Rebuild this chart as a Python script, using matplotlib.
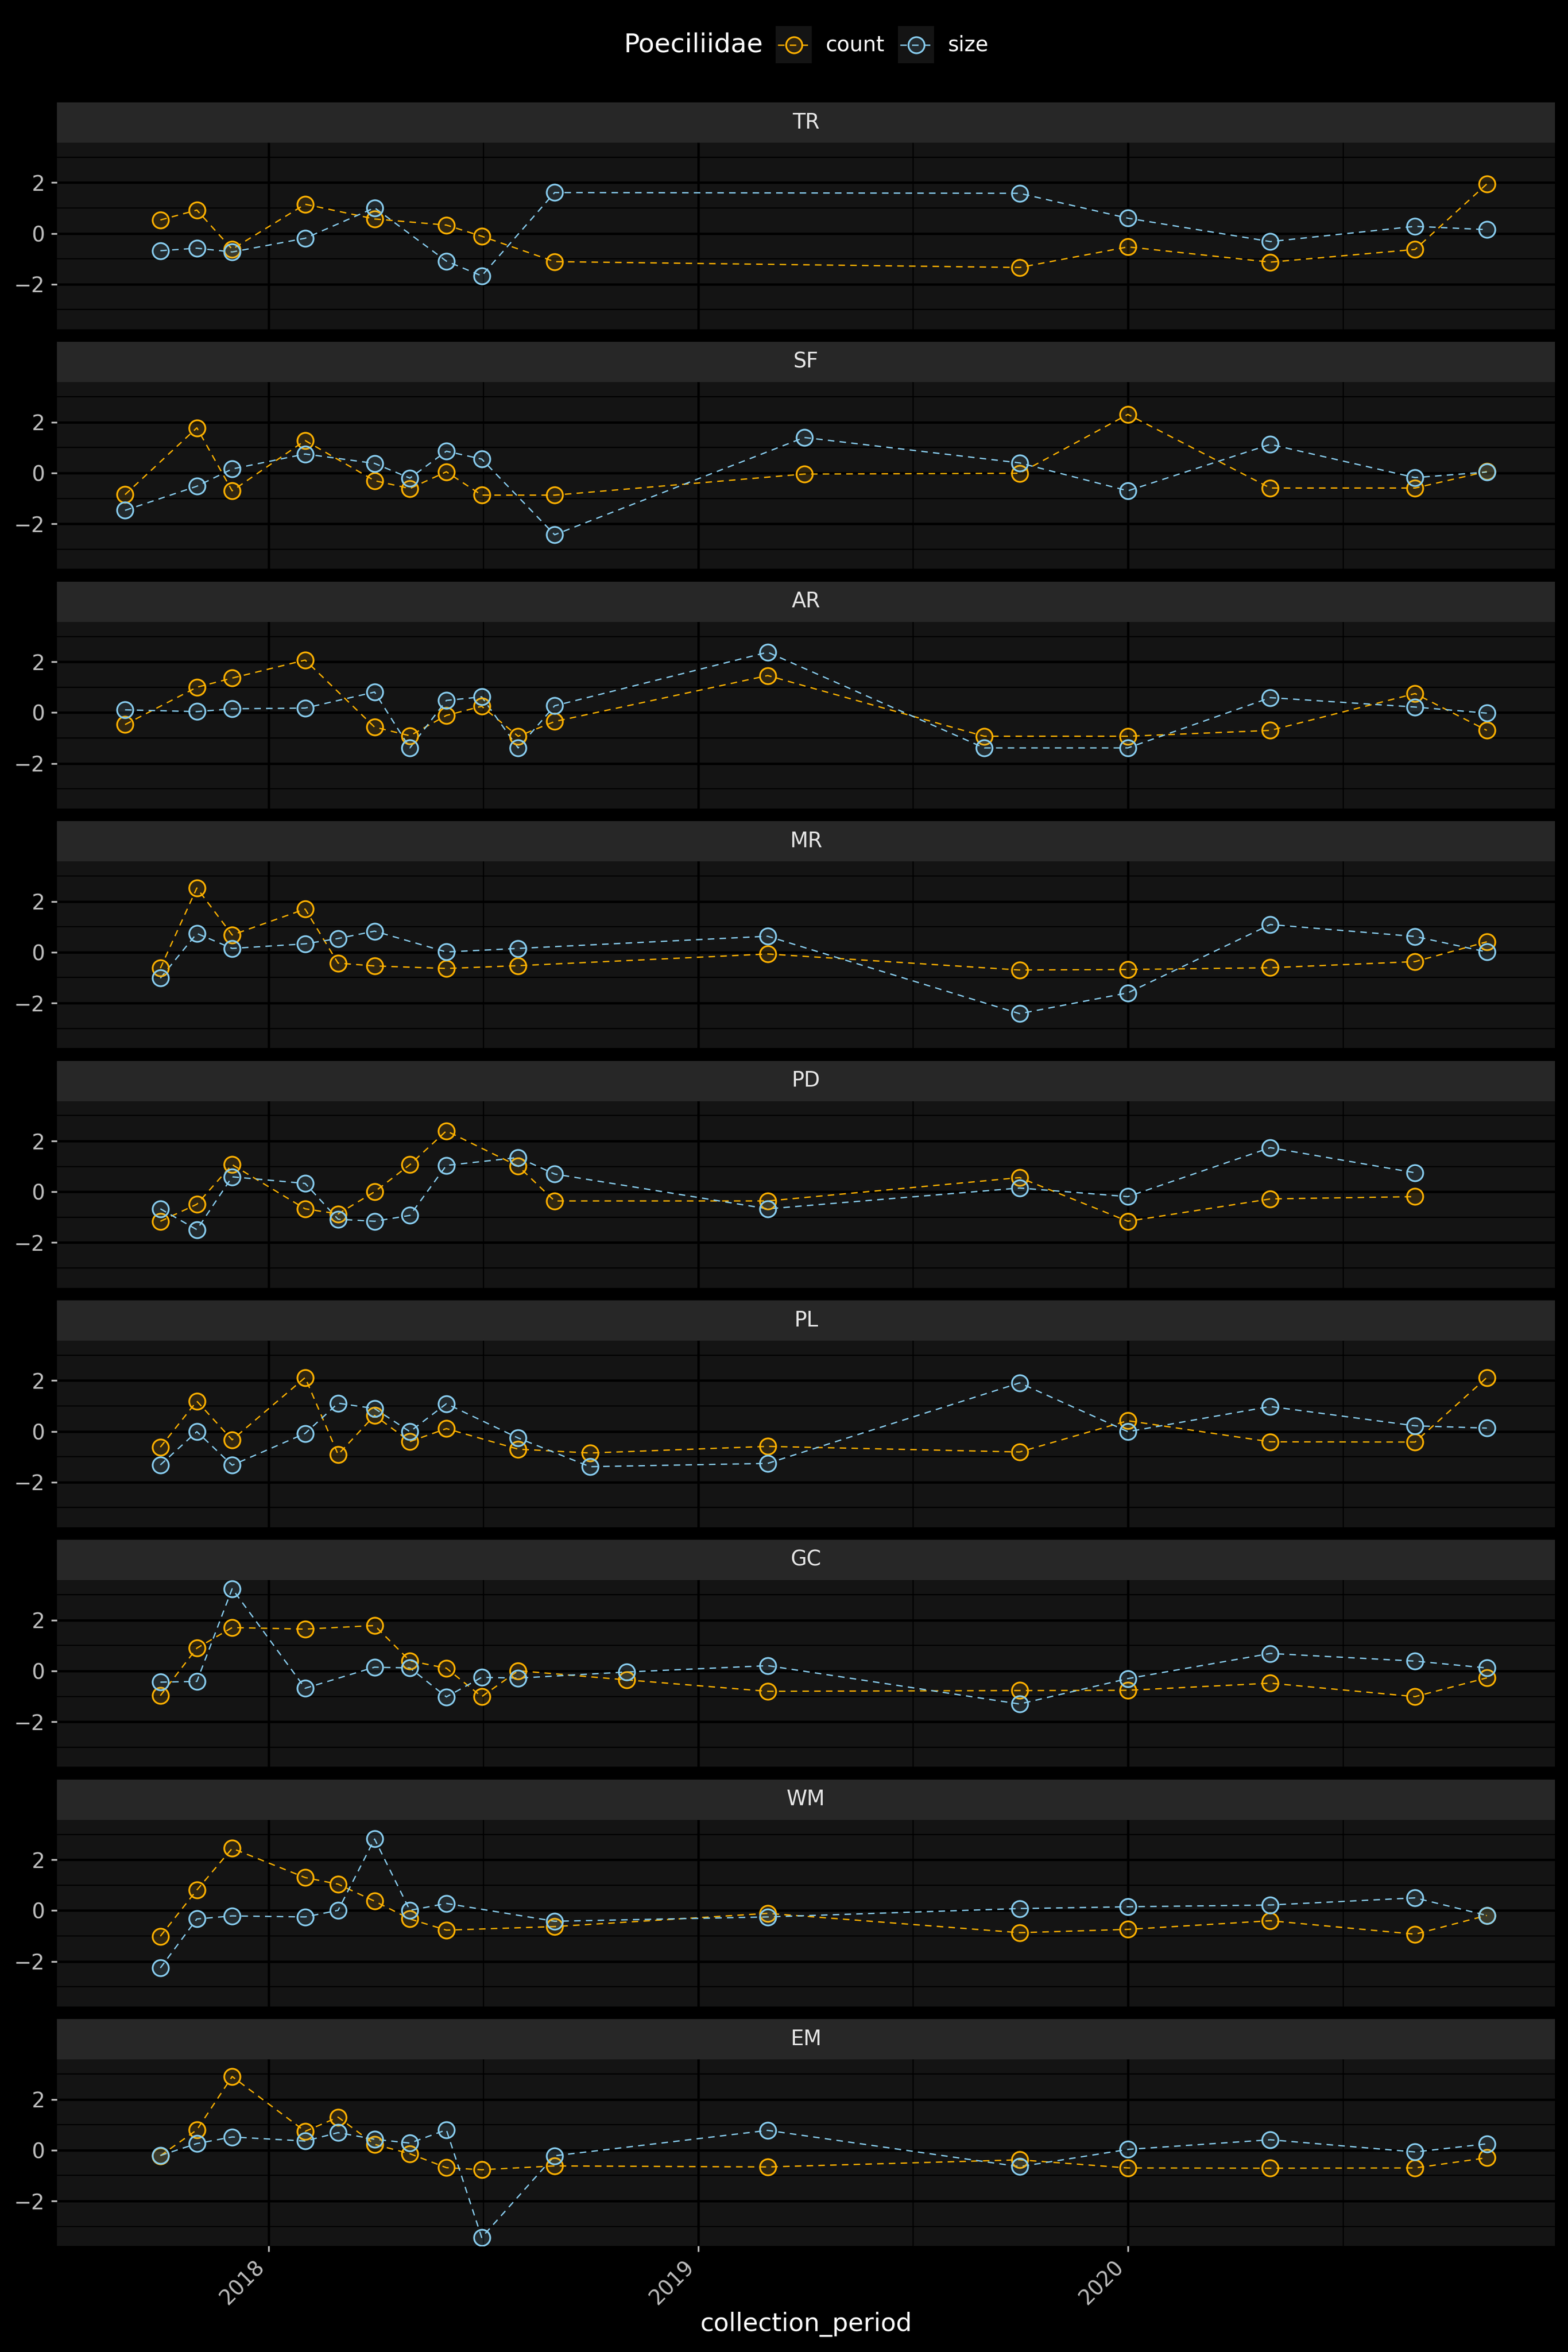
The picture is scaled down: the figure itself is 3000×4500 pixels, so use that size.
import matplotlib
matplotlib.use("Agg")
import matplotlib.pyplot as plt
import matplotlib.dates as mdates
import matplotlib.colors as mcolors
from matplotlib.patches import Rectangle
from matplotlib.lines import Line2D
import pandas as pd

# collection dates (monthly sampling) and standardized values per site
dates_TR = ["2017-10-01", "2017-11-01", "2017-12-01", "2018-02-01", "2018-04-01", "2018-06-01", "2018-07-01",
            "2018-09-01", "2019-10-01", "2020-01-01", "2020-05-01", "2020-09-01", "2020-11-01"]
count_TR = [0.53, 0.92, -0.62, 1.15, 0.57, 0.33, -0.11, -1.11, -1.34, -0.53, -1.13, -0.63, 1.95]
size_TR = [-0.68, -0.58, -0.73, -0.19, 1.01, -1.09, -1.67, 1.61, 1.58, 0.60, -0.32, 0.28, 0.15]

dates_SF = ["2017-09-01", "2017-11-01", "2017-12-01", "2018-02-01", "2018-04-01", "2018-05-01", "2018-06-01",
            "2018-07-01", "2018-09-01", "2019-04-01", "2019-10-01", "2020-01-01", "2020-05-01", "2020-09-01",
            "2020-11-01"]
count_SF = [-0.85, 1.78, -0.70, 1.28, -0.30, -0.61, 0.05, -0.87, -0.87, -0.04, -0.01, 2.31, -0.59, -0.59, 0.06]
size_SF = [-1.47, -0.52, 0.16, 0.75, 0.38, -0.20, 0.86, 0.55, -2.43, 1.40, 0.40, -0.70, 1.13, -0.18, 0.04]

dates_AR = ["2017-09-01", "2017-11-01", "2017-12-01", "2018-02-01", "2018-04-01", "2018-05-01", "2018-06-01",
            "2018-07-01", "2018-08-01", "2018-09-01", "2019-03-01", "2019-09-01", "2020-01-01", "2020-05-01",
            "2020-09-01", "2020-11-01"]
count_AR = [-0.47, 1.00, 1.36, 2.07, -0.57, -0.91, -0.11, 0.25, -0.93, -0.35, 1.46, -0.93, -0.93, -0.70, 0.75, -0.70]
size_AR = [0.11, 0.04, 0.15, 0.18, 0.81, -1.39, 0.48, 0.62, -1.39, 0.27, 2.38, -1.39, -1.39, 0.59, 0.22, -0.02]

dates_MR = ["2017-10-01", "2017-11-01", "2017-12-01", "2018-02-01", "2018-03-01", "2018-04-01", "2018-06-01",
            "2018-08-01", "2019-03-01", "2019-10-01", "2020-01-01", "2020-05-01", "2020-09-01", "2020-11-01"]
count_MR = [-0.63, 2.53, 0.68, 1.70, -0.43, -0.54, -0.64, -0.53, -0.07, -0.70, -0.68, -0.61, -0.37, 0.41]
size_MR = [-1.02, 0.74, 0.15, 0.33, 0.54, 0.83, 0.01, 0.15, 0.63, -2.42, -1.60, 1.09, 0.62, 0.01]

dates_PD = ["2017-10-01", "2017-11-01", "2017-12-01", "2018-02-01", "2018-03-01", "2018-04-01", "2018-05-01",
            "2018-06-01", "2018-08-01", "2018-09-01", "2019-03-01", "2019-10-01", "2020-01-01", "2020-05-01",
            "2020-09-01"]
count_PD = [-1.16, -0.49, 1.07, -0.67, -0.87, 0.00, 1.07, 2.40, 1.01, -0.36, -0.36, 0.56, -1.16, -0.28, -0.19]
size_PD = [-0.67, -1.49, 0.59, 0.33, -1.08, -1.16, -0.93, 1.04, 1.35, 0.70, -0.67, 0.15, -0.19, 1.74, 0.75]

dates_PL = ["2017-10-01", "2017-11-01", "2017-12-01", "2018-02-01", "2018-03-01", "2018-04-01", "2018-05-01",
            "2018-06-01", "2018-08-01", "2018-10-01", "2019-03-01", "2019-10-01", "2020-01-01", "2020-05-01",
            "2020-09-01", "2020-11-01"]
count_PL = [-0.62, 1.19, -0.33, 2.12, -0.91, 0.63, -0.40, 0.11, -0.70, -0.85, -0.59, -0.81, 0.42, -0.41, -0.42, 2.12]
size_PL = [-1.32, -0.01, -1.33, -0.08, 1.11, 0.90, -0.01, 1.09, -0.26, -1.39, -1.26, 1.91, -0.01, 0.98, 0.22, 0.13]

dates_GC = ["2017-10-01", "2017-11-01", "2017-12-01", "2018-02-01", "2018-04-01", "2018-05-01", "2018-06-01",
            "2018-07-01", "2018-08-01", "2018-11-01", "2019-03-01", "2019-10-01", "2020-01-01", "2020-05-01",
            "2020-09-01", "2020-11-01"]
count_GC = [-0.97, 0.90, 1.71, 1.65, 1.79, 0.40, 0.11, -1.01, 0.01, -0.35, -0.80, -0.77, -0.76, -0.48, -1.01, -0.27]
size_GC = [-0.44, -0.41, 3.24, -0.68, 0.15, 0.12, -1.02, -0.25, -0.28, -0.04, 0.21, -1.30, -0.30, 0.69, 0.39, 0.12]

dates_WM = ["2017-10-01", "2017-11-01", "2017-12-01", "2018-02-01", "2018-03-01", "2018-04-01", "2018-05-01",
            "2018-06-01", "2018-09-01", "2019-03-01", "2019-10-01", "2020-01-01", "2020-05-01", "2020-09-01",
            "2020-11-01"]
count_WM = [-1.01, 0.81, 2.45, 1.30, 1.04, 0.37, -0.33, -0.77, -0.63, -0.11, -0.87, -0.74, -0.40, -0.93, -0.19]
size_WM = [-2.26, -0.33, -0.21, -0.25, 0.01, 2.82, 0.01, 0.28, -0.42, -0.25, 0.08, 0.15, 0.22, 0.50, -0.19]

dates_EM = ["2017-10-01", "2017-11-01", "2017-12-01", "2018-02-01", "2018-03-01", "2018-04-01", "2018-05-01",
            "2018-06-01", "2018-07-01", "2018-09-01", "2019-03-01", "2019-10-01", "2020-01-01", "2020-05-01",
            "2020-09-01", "2020-11-01"]
count_EM = [-0.22, 0.80, 2.90, 0.74, 1.30, 0.23, -0.14, -0.69, -0.77, -0.62, -0.66, -0.38, -0.70, -0.71, -0.70, -0.30]
size_EM = [-0.21, 0.26, 0.52, 0.36, 0.69, 0.43, 0.28, 0.80, -3.44, -0.22, 0.78, -0.65, 0.03, 0.41, -0.07, 0.25]

sites = ["TR", "SF", "AR", "MR", "PD", "PL", "GC", "WM", "EM"]
site_dates = [dates_TR, dates_SF, dates_AR, dates_MR, dates_PD, dates_PL, dates_GC, dates_WM, dates_EM]
site_count = [count_TR, count_SF, count_AR, count_MR, count_PD, count_PL, count_GC, count_WM, count_EM]
site_size = [size_TR, size_SF, size_AR, size_MR, size_PD, size_PL, size_GC, size_WM, size_EM]

series_labels = ["count", "size"]
series_colors = ["#FFB000", "#88CCEE"]
legend_title = "Poeciliidae"

# theme colours
BG = "black"
PANEL = "#141414"
STRIP = "#272727"
TICK = "#bdbdbd"
TEXT = "#e6e6e6"

W, H = 3000, 4500


def fig_box(x0, y0, x1, y1):
    # pixel box (top-left origin) -> figure fraction rect
    return [x0 / W, 1 - y1 / H, (x1 - x0) / W, (y1 - y0) / H]


def draw_series(ax, x, y, color):
    ax.plot(x, y, color=color, lw=0.6, ls=(0, (5, 4)), zorder=3)
    ax.plot(x, y, ls="none", marker="o", ms=7.4, mew=0.8, mec=color,
            mfc=mcolors.to_rgba(color, 0.12), zorder=4)


def main():
    fig = plt.figure(figsize=(10, 15), dpi=300, facecolor=BG)

    # shared limits with ggplot-like 5% expansion
    all_x = pd.to_datetime([d for ds in site_dates for d in ds])
    xmin, xmax = mdates.date2num(all_x.min()), mdates.date2num(all_x.max())
    xpad = (xmax - xmin) * 0.05
    xlo, xhi = xmin - xpad, xmax + xpad
    all_y = [v for vs in site_count + site_size for v in vs]
    ymin, ymax = min(all_y), max(all_y)
    ypad = (ymax - ymin) * 0.05

    years = [mdates.date2num(pd.Timestamp(f"{y}-01-01")) for y in range(2017, 2023)]
    minor_x = [(a + b) / 2 for a, b in zip(years[:-1], years[1:])]
    minor_x = [m for m in minor_x if xlo <= m <= xhi]

    left, right = 109, 2975
    step = 458.4
    for i, site in enumerate(sites):
        top = 196 + i * step
        # strip
        sax = fig.add_axes(fig_box(left, top, right, top + 77))
        sax.set_facecolor(STRIP)
        sax.set_xticks([])
        sax.set_yticks([])
        for s in sax.spines.values():
            s.set_visible(False)
        sax.text(0.5, 0.5, site, color=TEXT, fontsize=9.6, ha="center", va="center",
                 transform=sax.transAxes)

        ax = fig.add_axes(fig_box(left, top + 77, right, top + 434))
        ax.set_facecolor(PANEL)
        for s in ax.spines.values():
            s.set_visible(False)

        x = pd.to_datetime(site_dates[i])
        for vals, col in zip([site_count[i], site_size[i]], series_colors):
            draw_series(ax, x, vals, col)

        ax.set_yticks([-2, 0, 2])
        ax.set_yticks([-3, -1, 1, 3], minor=True)
        ax.xaxis.set_major_locator(mdates.YearLocator())
        ax.xaxis.set_major_formatter(mdates.DateFormatter("%Y"))
        ax.set_xticks(minor_x, minor=True)
        ax.set_xlim(xlo, xhi)
        ax.set_ylim(ymin - ypad, ymax + ypad)
        ax.grid(which="major", color="black", lw=1.1, zorder=0)
        ax.grid(which="minor", color="black", lw=0.55, zorder=0)
        ax.set_axisbelow(True)
        ax.tick_params(axis="y", which="major", colors=TICK, labelsize=9.6, length=2.75, width=0.8, pad=2.9)
        ax.tick_params(which="minor", length=0)
        if i == len(sites) - 1:
            ax.tick_params(axis="x", which="major", colors=TICK, labelsize=9.6, length=2.75, width=0.8,
                           pad=2.2)
            for lab in ax.get_xticklabels():
                lab.set_rotation(45)
                lab.set_ha("right")
                lab.set_va("top")
        else:
            ax.tick_params(axis="x", which="major", length=0, labelbottom=False)

    fig.text((left + right) / 2 / W, 1 - 4447 / H, "collection_period", color="white",
             fontsize=11.5, ha="center", va="center")

    # legend drawn in pixel space at the top
    lax = fig.add_axes([0, 0, 1, 1], zorder=5)
    lax.set_xlim(0, W)
    lax.set_ylim(H, 0)
    lax.axis("off")
    lax.patch.set_visible(False)
    lax.text(1460, 86, legend_title, color="white", fontsize=12, ha="right", va="center")
    key_x = [1484, 1718]
    for kx, lab, col in zip(key_x, series_labels, series_colors):
        lax.add_patch(Rectangle((kx, 50), 69, 71, facecolor=PANEL, edgecolor="none"))
        lax.add_line(Line2D([kx + 4, kx + 65], [86, 86], color=col, lw=0.6, ls=(0, (5, 4))))
        lax.add_line(Line2D([kx + 34.5], [86], ls="none", marker="o", ms=7.4, mew=0.8, mec=col,
                            mfc=mcolors.to_rgba(col, 0.12)))
        lax.text(kx + 96, 86, lab, color="white", fontsize=9.6, ha="left", va="center")

    fig.savefig("out.png", dpi=300, facecolor=BG)


if __name__ == "__main__":
    main()
